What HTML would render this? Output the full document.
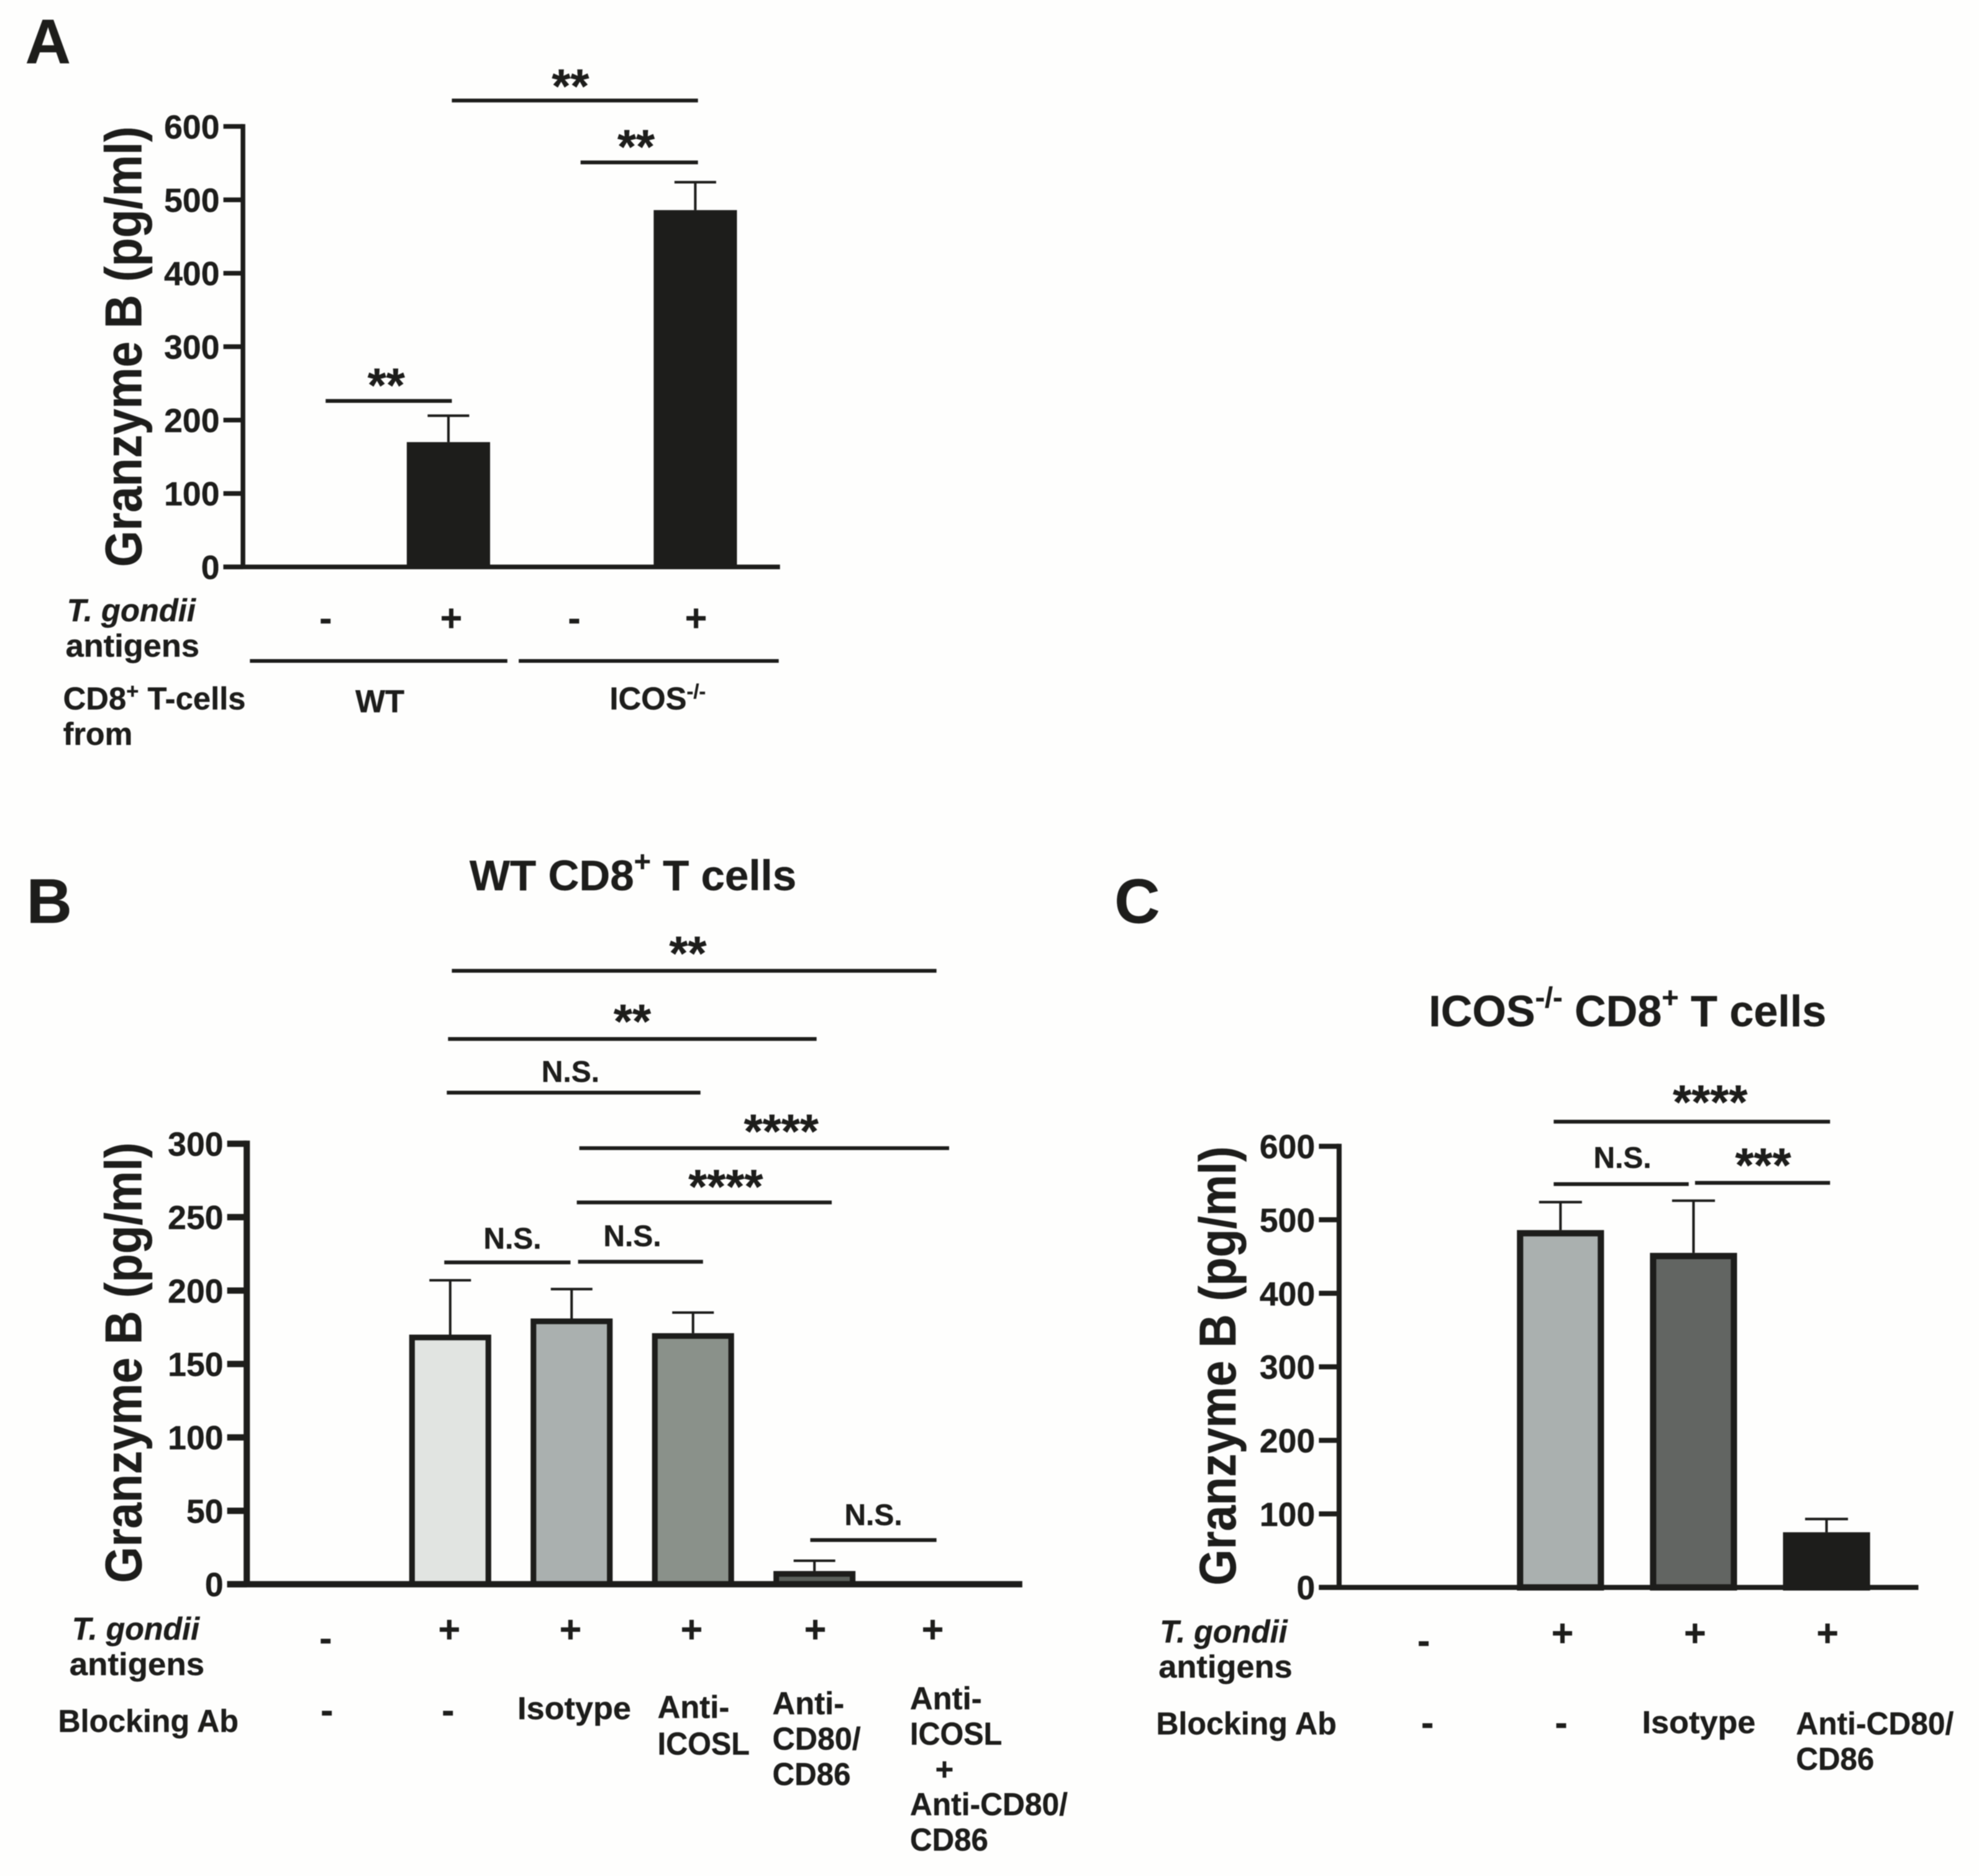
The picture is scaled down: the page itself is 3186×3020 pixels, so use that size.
<!DOCTYPE html>
<html lang="en">
<head>
<meta charset="utf-8">
<title>Granzyme B bar charts</title>
<style>
html,body{margin:0;padding:0;background:#fefefd;}
svg{display:block;filter:blur(0.9px);}
text{font-family:"Liberation Sans",Arial,sans-serif;font-weight:bold;fill:#1d1d1b;stroke:#1d1d1b;stroke-width:0.2px;}
.lab{font-size:25px;}
.ctr{text-anchor:middle;}
.sign{font-size:30px;text-anchor:middle;}
.star{font-size:38px;text-anchor:middle;}
.ns{font-size:23.6px;text-anchor:middle;}
.letter{font-size:50px;}
.title{font-size:34px;}
.ytitle{font-size:41px;}
.it{font-style:italic;}
.br{stroke:#1d1d1b;stroke-width:3;}
</style>
</head>
<body>
<svg id="fig" xmlns="http://www.w3.org/2000/svg" width="3186" height="3020" viewBox="0 0 1568 1486">
<rect x="0" y="0" width="1568" height="1486" fill="#fefefd"/>

<g id="panelA">
<text class="letter" x="20" y="50">A</text>
<text class="ytitle" x="112" y="449" transform="rotate(-90 112 449)" textLength="349" lengthAdjust="spacingAndGlyphs">Granzyme B (pg/ml)</text>
<line class="br" x1="358" x2="553" y1="79.5" y2="79.5"/>
<line class="br" x1="460" x2="553" y1="128.5" y2="128.5"/>
<line class="br" x1="258" x2="358" y1="317.5" y2="317.5"/>
<text class="star" x="452" y="81">**</text>
<text class="star" x="504" y="129">**</text>
<text class="star" x="306" y="318">**</text>
<text class="lab it" x="53" y="492" textLength="102" lengthAdjust="spacingAndGlyphs">T. gondii</text>
<text class="lab" x="52" y="520" textLength="106" lengthAdjust="spacingAndGlyphs">antigens</text>
<text class="sign" x="258" y="500">-</text>
<text class="sign" x="357.5" y="500">+</text>
<text class="sign" x="455" y="500">-</text>
<text class="sign" x="551.5" y="500">+</text>
<line class="br" x1="198" x2="402" y1="523.5" y2="523.5"/>
<line class="br" x1="411" x2="617" y1="523.5" y2="523.5"/>
<text class="lab" x="50" y="562">CD8<tspan font-size="17" dy="-9">+</tspan><tspan dy="9"> T-cells</tspan></text>
<text class="lab" x="50" y="590" textLength="55" lengthAdjust="spacingAndGlyphs">from</text>
<text class="lab ctr" x="301" y="564">WT</text>
<text class="lab" x="483" y="562">ICOS<tspan font-size="16" dy="-9">-/-</tspan></text>
</g>

<g id="panelB">
<text class="letter" x="21" y="731">B</text>
<text class="title" x="372" y="705">WT CD8<tspan font-size="23" dy="-15">+</tspan><tspan dy="15"> T cells</tspan></text>
<text class="ytitle" x="112" y="1254" transform="rotate(-90 112 1254)" textLength="349" lengthAdjust="spacingAndGlyphs">Granzyme B (pg/ml)</text>
<line class="br" x1="358" x2="742" y1="769" y2="769"/>
<line class="br" x1="355" x2="647" y1="823" y2="823"/>
<line class="br" x1="354" x2="555" y1="865.5" y2="865.5"/>
<line class="br" x1="459" x2="752" y1="909.5" y2="909.5"/>
<line class="br" x1="457" x2="659" y1="952.5" y2="952.5"/>
<line class="br" x1="352" x2="452" y1="1000" y2="1000"/>
<line class="br" x1="458" x2="557" y1="999.5" y2="999.5"/>
<line class="br" x1="642" x2="742" y1="1220" y2="1220"/>
<text class="star" x="545" y="768">**</text>
<text class="star" x="501" y="822">**</text>
<text class="ns" x="452" y="857">N.S.</text>
<text class="star" x="619" y="909">****</text>
<text class="star" x="575" y="953">****</text>
<text class="ns" x="406" y="989">N.S.</text>
<text class="ns" x="501" y="987">N.S.</text>
<text class="ns" x="692" y="1208">N.S.</text>
<text class="lab it" x="57" y="1299" textLength="101" lengthAdjust="spacingAndGlyphs">T. gondii</text>
<text class="lab" x="55" y="1327" textLength="107" lengthAdjust="spacingAndGlyphs">antigens</text>
<text class="lab" x="46" y="1372" textLength="143" lengthAdjust="spacingAndGlyphs">Blocking Ab</text>
<text class="sign" x="258" y="1308">-</text>
<text class="sign" x="356" y="1301">+</text>
<text class="sign" x="452" y="1301">+</text>
<text class="sign" x="548" y="1301">+</text>
<text class="sign" x="646" y="1301">+</text>
<text class="sign" x="739" y="1301">+</text>
<text class="sign" x="259" y="1365">-</text>
<text class="sign" x="355" y="1365">-</text>
<text class="lab" x="410" y="1362" textLength="90" lengthAdjust="spacingAndGlyphs">Isotype</text>
<text class="lab" x="521" y="1361">Anti-</text>
<text class="lab" x="521" y="1390" textLength="73" lengthAdjust="spacingAndGlyphs">ICOSL</text>
<text class="lab" x="612" y="1358">Anti-</text>
<text class="lab" x="612" y="1386" textLength="70" lengthAdjust="spacingAndGlyphs">CD80/</text>
<text class="lab" x="612" y="1414" textLength="62" lengthAdjust="spacingAndGlyphs">CD86</text>
<text class="lab" x="721" y="1354">Anti-</text>
<text class="lab" x="721" y="1382" textLength="73" lengthAdjust="spacingAndGlyphs">ICOSL</text>
<text class="lab" x="741" y="1410">+</text>
<text class="lab" x="721" y="1438" textLength="125" lengthAdjust="spacingAndGlyphs">Anti-CD80/</text>
<text class="lab" x="721" y="1466" textLength="62" lengthAdjust="spacingAndGlyphs">CD86</text>
</g>

<g id="panelC">
<text class="letter" x="883" y="731">C</text>
<text class="title" x="1132" y="813" style="font-size:34.5px">ICOS<tspan font-size="23" dy="-15">-/-</tspan><tspan dy="15"> CD8</tspan><tspan font-size="23" dy="-15">+</tspan><tspan dy="15"> T cells</tspan></text>
<text class="ytitle" x="979" y="1256" transform="rotate(-90 979 1256)" textLength="348" lengthAdjust="spacingAndGlyphs">Granzyme B (pg/ml)</text>
<line class="br" x1="1231" x2="1450" y1="888.5" y2="888.5"/>
<line class="br" x1="1231" x2="1338" y1="938" y2="938"/>
<line class="br" x1="1343" x2="1450" y1="937" y2="937"/>
<text class="star" x="1355" y="886">****</text>
<text class="ns" x="1285.5" y="925">N.S.</text>
<text class="star" x="1397" y="936">***</text>
<text class="lab it" x="919" y="1301" textLength="101" lengthAdjust="spacingAndGlyphs">T. gondii</text>
<text class="lab" x="918" y="1329" textLength="106" lengthAdjust="spacingAndGlyphs">antigens</text>
<text class="lab" x="916" y="1374" textLength="143" lengthAdjust="spacingAndGlyphs">Blocking Ab</text>
<text class="sign" x="1128" y="1310">-</text>
<text class="sign" x="1238" y="1304">+</text>
<text class="sign" x="1343" y="1304">+</text>
<text class="sign" x="1448" y="1304">+</text>
<text class="sign" x="1131" y="1375">-</text>
<text class="sign" x="1237" y="1375">-</text>
<text class="lab" x="1301" y="1373" textLength="90" lengthAdjust="spacingAndGlyphs">Isotype</text>
<text class="lab" x="1423" y="1374" textLength="125" lengthAdjust="spacingAndGlyphs">Anti-CD80/</text>
<text class="lab" x="1423" y="1402" textLength="62" lengthAdjust="spacingAndGlyphs">CD86</text>
</g>
</svg>

<script>
// Chart data
var panelACategories = ["WT, no antigen", "WT, antigen", "ICOS-/-, no antigen", "ICOS-/-, antigen"];
var panelAMeans = [0, 170, 0, 486];
var panelAErrors = [0, 36, 0, 38];
var panelATicks = [0, 100, 200, 300, 400, 500, 600];

var panelBCategories = ["No antigen", "Antigen only", "Isotype", "Anti-ICOSL", "Anti-CD80/CD86", "Anti-ICOSL + Anti-CD80/CD86"];
var panelBMeans = [0, 170, 181, 171, 9, 0];
var panelBErrors = [0, 37, 20, 14, 7, 0];
var panelBTicks = [0, 50, 100, 150, 200, 250, 300];

var panelCCategories = ["No antigen", "Antigen only", "Isotype", "Anti-CD80/CD86"];
var panelCMeans = [0, 486, 455, 75];
var panelCErrors = [0, 38, 71, 18];
var panelCTicks = [0, 100, 200, 300, 400, 500, 600];

var SVGNS = "http://www.w3.org/2000/svg";

function addShape(parent, tag, attrs) {
  var el = document.createElementNS(SVGNS, tag);
  for (var k in attrs) { el.setAttribute(k, attrs[k]); }
  parent.appendChild(el);
  return el;
}

function drawChart(opt) {
  var g = document.getElementById(opt.parent);
  var ink = "#1d1d1b";
  var maxTick = opt.ticks[opt.ticks.length - 1];
  function y(v) { return opt.y0 - (v / maxTick) * (opt.y0 - opt.yTop); }
  function x(i) { return opt.firstCenter + i * opt.step; }

  opt.categories.forEach(function (cat, i) {
    var mean = opt.means[i];
    var err = opt.errors[i];
    var c = x(i);
    var stem = addShape(g, "line", {x1: c, x2: c, y1: y(mean), y2: y(mean + err), stroke: ink, "stroke-width": 2});
    
    
    var cap = addShape(g, "line", {x1: c - opt.capHalf, x2: c + opt.capHalf, y1: y(mean + err), y2: y(mean + err), stroke: ink, "stroke-width": 2});
    
    
    var sw = opt.barStroke;
    var bar = addShape(g, "rect", {
      x: c - opt.barWidth / 2 + sw / 2,
      y: y(mean) + sw / 2,
      width: opt.barWidth - sw,
      height: Math.max(0, opt.y0 - y(mean) - sw / 2),
      fill: opt.fills[i],
      stroke: ink,
      "stroke-width": sw
    });
    
    
    bar.setAttribute('aria-label', cat);
  });

  var yAxis = addShape(g, "line", {x1: opt.x0, x2: opt.x0, y1: opt.yTop - opt.axisStroke / 2, y2: opt.y0, stroke: ink, "stroke-width": opt.axisStroke});
  
  
  var xAxis = addShape(g, "line", {x1: opt.tickLeft, x2: opt.xEnd, y1: opt.y0, y2: opt.y0, stroke: ink, "stroke-width": opt.axisStroke});
  
  

  opt.ticks.forEach(function (t) {
    var mark = addShape(g, "line", {x1: opt.tickLeft, x2: opt.x0, y1: y(t), y2: y(t), stroke: ink, "stroke-width": opt.axisStroke});
    
    
    var label = addShape(g, "text", {x: opt.tickLeft - 3, y: y(t) + 9.5, "text-anchor": "end", "font-size": 26.4});
    label.textContent = String(t);
    
    
  });
}

drawChart({
  parent: "panelA", categories: panelACategories, means: panelAMeans, errors: panelAErrors, ticks: panelATicks,
  fills: ["#1d1d1b", "#1d1d1b", "#1d1d1b", "#1d1d1b"],
  x0: 192.5, xEnd: 618, tickLeft: 177, y0: 449, yTop: 100, firstCenter: 257.5, step: 97.8,
  barWidth: 66, barStroke: 1, capHalf: 16.5, axisStroke: 3.7
});
drawChart({
  parent: "panelB", categories: panelBCategories, means: panelBMeans, errors: panelBErrors, ticks: panelBTicks,
  fills: ["#e1e4e1", "#e1e4e1", "#aab0af", "#8a918a", "#5a5f5a", "#5a5f5a"],
  x0: 195.5, xEnd: 810, tickLeft: 180, y0: 1255, yTop: 906, firstCenter: 260.5, step: 96.2,
  barWidth: 65, barStroke: 4.5, capHalf: 16.5, axisStroke: 5
});
drawChart({
  parent: "panelC", categories: panelCCategories, means: panelCMeans, errors: panelCErrors, ticks: panelCTicks,
  fills: ["#aab0af", "#aab0af", "#626562", "#1d1d1b"],
  x0: 1061, xEnd: 1520, tickLeft: 1045, y0: 1257.5, yTop: 908, firstCenter: 1131, step: 105.4,
  barWidth: 69, barStroke: 5, capHalf: 17, axisStroke: 4
});
</script>
</body>
</html>
